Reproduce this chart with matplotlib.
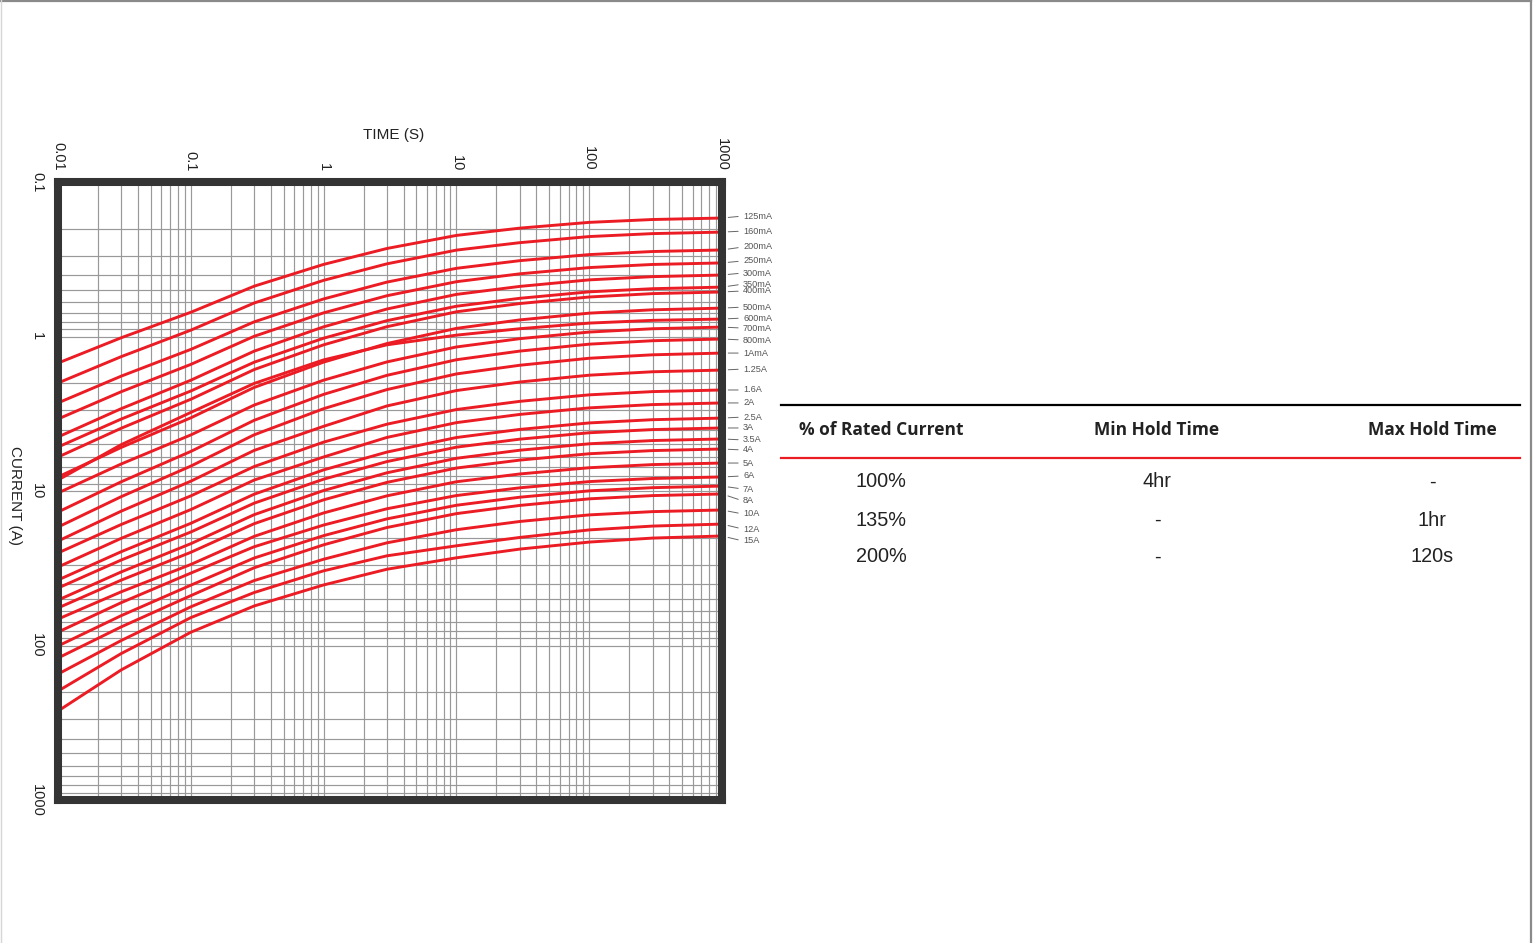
import matplotlib
matplotlib.use("Agg")
import matplotlib.pyplot as plt
from matplotlib.lines import Line2D
from matplotlib.ticker import FixedLocator, FixedFormatter, LogLocator, NullFormatter

# ---------------- data ----------------
times = [0.01, 0.03, 0.1, 0.3, 1, 3, 10, 30, 100, 300, 1000]  # seconds

ratings = ["125mA", "160mA", "200mA", "250mA", "300mA", "350mA", "400mA",
           "500mA", "600mA", "700mA", "800mA", "1AmA", "1.25A", "1.6A", "2A",
           "2.5A", "3A", "3.5A", "4A", "5A", "6A", "7A", "8A", "10A", "12A", "15A"]

c_125mA = [1.486, 1.018, 0.697, 0.4725, 0.3415, 0.2693, 0.2217, 0.1989, 0.1825, 0.1749, 0.1711]
c_160mA = [2.00, 1.349, 0.910, 0.607, 0.4330, 0.3385, 0.276, 0.247, 0.2255, 0.2158, 0.211]
c_200mA = [2.69, 1.804, 1.212, 0.804, 0.5714, 0.4445, 0.362, 0.323, 0.295, 0.2818, 0.2754]
c_250mA = [3.42, 2.275, 1.516, 0.997, 0.7029, 0.5445, 0.442, 0.393, 0.358, 0.3418, 0.334]
c_300mA = [4.47, 2.929, 1.919, 1.244, 0.8658, 0.6638, 0.534, 0.474, 0.430, 0.4098, 0.400]
c_350mA = [5.19, 3.419, 2.253, 1.467, 1.0257, 0.7896, 0.637, 0.566, 0.514, 0.4905, 0.479]
c_400mA = [6.03, 3.921, 2.549, 1.637, 1.1323, 0.8640, 0.692, 0.612, 0.555, 0.5278, 0.515]
c_500mA = [8.11, 5.219, 3.361, 2.137, 1.4649, 1.1106, 0.886, 0.781, 0.706, 0.6717, 0.655]
c_600mA = [8.49, 5.006, 3.101, 2.013, 1.417, 1.132, 0.980, 0.8905, 0.819, 0.786, 0.771]
c_700mA = [10.30, 6.680, 4.337, 2.779, 1.9175, 1.4606, 1.169, 1.033, 0.936, 0.8907, 0.869]
c_800mA = [13.68, 8.708, 5.547, 3.487, 2.369, 1.7834, 1.414, 1.243, 1.121, 1.0651, 1.038]
c_1A = [17.11, 10.87, 6.901, 4.328, 2.933, 2.2055, 1.747, 1.535, 1.383, 1.3137, 1.280]
c_1_25A = [21.09, 13.49, 8.641, 5.462, 3.8135, 2.8148, 2.238, 1.970, 1.780, 1.6915, 1.649]
c_1_6A = [25.18, 16.46, 10.76, 6.947, 4.827, 3.6947, 2.970, 2.629, 2.386, 2.2736, 2.219]
c_2A = [31.05, 20.23, 13.19, 8.496, 6.023, 4.4989, 3.610, 3.194, 2.897, 2.7588, 2.692]
c_2_5A = [37.67, 24.69, 16.19, 10.49, 7.301, 5.5983, 4.507, 3.994, 3.626, 3.4553, 3.373]
c_3A = [42.46, 27.95, 18.43, 11.99, 8.387, 6.4508, 5.204, 4.619, 4.199, 4.0032, 3.909]
c_3_5A = [50.82, 33.37, 21.93, 14.23, 9.928, 7.6228, 6.142, 5.446, 4.948, 4.7149, 4.603]
c_4A = [57.15, 37.72, 24.94, 16.28, 11.408, 8.7941, 7.105, 6.310, 5.740, 5.4753, 5.347]
c_5A = [67.45, 44.88, 29.89, 19.67, 13.870, 10.747, 8.714, 7.759, 7.070, 6.7469, 6.592]
c_6A = [81.87, 52.75, 34.00, 22.96, 16.61, 13.03, 10.70, 9.535, 8.692, 8.2998, 8.11]
c_7A = [100.7, 64.02, 40.71, 27.15, 19.45, 15.15, 12.37, 10.97, 9.977, 9.516, 9.292]
c_8A = [120.5, 75.69, 47.57, 31.40, 22.30, 17.23, 14.01, 12.40, 11.24, 10.709, 10.45]
c_10A = [153.1, 92.73, 56.19, 38.00, 27.65, 21.65, 17.81, 15.75, 14.28, 13.599, 13.27]
c_12A = [197.2, 112.6, 65.98, 45.42, 32.86, 26.27, 22.63, 19.98, 17.86, 16.866, 16.37]
c_15A = [265.5, 143.7, 82.06, 55.49, 40.56, 32.09, 27.07, 23.77, 21.41, 20.17, 19.55]

curves = [c_125mA, c_160mA, c_200mA, c_250mA, c_300mA, c_350mA, c_400mA,
          c_500mA, c_600mA, c_700mA, c_800mA, c_1A, c_1_25A, c_1_6A, c_2A,
          c_2_5A, c_3A, c_3_5A, c_4A, c_5A, c_6A, c_7A, c_8A, c_10A, c_12A, c_15A]

x_ticks = [0.01, 0.1, 1, 10, 100, 1000]
x_tick_labels = ["0.01", "0.1", "1", "10", "100", "1000"]
y_ticks = [0.1, 1, 10, 100, 1000]
y_tick_labels = ["0.1", "1", "10", "100", "1000"]

table_header = ["% of Rated Current", "Min Hold Time", "Max Hold Time"]
table_col_rated = ["100%", "135%", "200%"]
table_col_min = ["4hr", "-", "-"]
table_col_max = ["-", "1hr", "120s"]

# label vertical nudges (pixels, positive = downwards) for the right-hand labels
label_dy = [-2, -1, -3, -2, -2, -3, -1, -1, -1, 1, 1, 0, -1, 0, 0, -1, 0, 1, 1,
            0, -1, 3, 7, 4, 5, 5]

# ---------------- figure ----------------
W, H, DPI = 1538, 943, 100
fig = plt.figure(figsize=(W / DPI, H / DPI), dpi=DPI)
fig.patch.set_facecolor("white")
plt.rcParams["font.family"] = ["Liberation Sans", "DejaVu Sans"]

ax_l, ax_r, ax_t, ax_b = 58, 722, 182, 800
ax = fig.add_axes([ax_l / W, 1 - ax_b / H, (ax_r - ax_l) / W, (ax_b - ax_t) / H])
ax.set_xscale("log")
ax.set_yscale("log")
ax.set_xlim(0.01, 1000)
ax.set_ylim(1000, 0.1)

grid_col = "#999999"
ax.xaxis.set_major_locator(FixedLocator(x_ticks))
ax.xaxis.set_major_formatter(FixedFormatter(x_tick_labels))
ax.yaxis.set_major_locator(FixedLocator(y_ticks))
ax.yaxis.set_major_formatter(FixedFormatter(y_tick_labels))
ax.xaxis.set_minor_locator(LogLocator(base=10, subs=range(2, 10), numticks=50))
ax.yaxis.set_minor_locator(LogLocator(base=10, subs=range(2, 10), numticks=50))
ax.xaxis.set_minor_formatter(NullFormatter())
ax.yaxis.set_minor_formatter(NullFormatter())
ax.grid(True, which="both", color=grid_col, linewidth=0.85)
ax.set_axisbelow(True)

ax.xaxis.tick_top()
ax.tick_params(axis="both", which="both", length=0)
ax.tick_params(axis="x", which="major", labelrotation=-90, labelsize=10.5, pad=8,
               labelcolor="#222222")
ax.tick_params(axis="y", which="major", labelrotation=-90, labelsize=10.5, pad=10,
               labelcolor="#222222")
for lab in ax.get_yticklabels():
    lab.set_verticalalignment("center")

for sp in ax.spines.values():
    sp.set_linewidth(5.8)
    sp.set_color("#343434")

red = "#ec1c24"
for c in curves:
    ax.plot(times, c, color=red, linewidth=2.1, solid_joinstyle="round",
            solid_capstyle="butt", zorder=2)

# right-hand labels with leader lines
for name, c, dy in zip(ratings, curves, label_dy):
    ax.annotate(name, xy=(1, c[-1]), xycoords=ax.get_yaxis_transform(),
                xytext=(21, -dy), textcoords="offset pixels",
                ha="left", va="center", fontsize=6.6, color="#555555",
                annotation_clip=False,
                arrowprops=dict(arrowstyle="-", color="#666666", lw=0.7,
                                shrinkA=1.5, shrinkB=4.5, relpos=(0, 0.5)))

# axis titles
fig.text(394 / W, 1 - 135 / H, "TIME (S)", ha="center", va="center",
         fontsize=11, color="#222222")
fig.text(15 / W, 1 - 495 / H, "CURRENT (A)", ha="center", va="center",
         fontsize=11, color="#222222", rotation=-90)

# ---------------- table ----------------
tx0, tx1 = 781, 1520
fig.add_artist(Line2D([tx0 / W, tx1 / W], [1 - 405 / H, 1 - 405 / H],
                      color="black", linewidth=1.6))
fig.add_artist(Line2D([tx0 / W, tx1 / W], [1 - 458 / H, 1 - 458 / H],
                      color=red, linewidth=1.6))
col_x = [881, 1157, 1432]
for x, t in zip(col_x, table_header):
    fig.text(x / W, 1 - 430 / H, t, ha="center", va="center", fontsize=12.5,
             fontweight="bold", color="#222222",
             family=["Open Sans", "DejaVu Sans"])
row_y = [482, 520, 557]
for col, x in zip([table_col_rated, table_col_min, table_col_max], col_x):
    for y, t in zip(row_y, col):
        fig.text(x / W, 1 - y / H, t, ha="center", va="center", fontsize=14.3,
                 color="#222222")

# page border lines
fig.add_artist(Line2D([0, 1531 / W], [1 - 1 / H, 1 - 1 / H], color="#8a8a8a", linewidth=1.6))
fig.add_artist(Line2D([1531 / W, 1531 / W], [0, 1], color="#8a8a8a", linewidth=1.6))
fig.add_artist(Line2D([1 / W, 1 / W], [0, 1], color="#d6d6d6", linewidth=1.0))

fig.savefig("out.png", dpi=DPI, facecolor="white")
